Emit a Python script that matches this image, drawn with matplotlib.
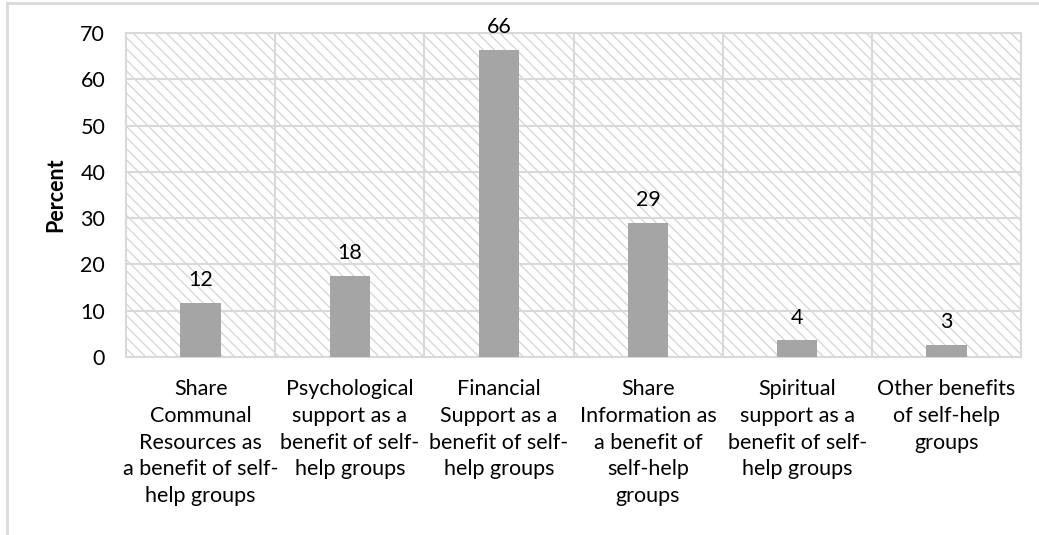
import matplotlib.pyplot as plt
from matplotlib.patches import Rectangle
from matplotlib.lines import Line2D

# Benefits of self-help groups, percent of respondents
categories = [
    "Share\nCommunal\nResources as\na benefit of self-\nhelp groups",
    "Psychological\nsupport as a\nbenefit of self-\nhelp groups",
    "Financial\nSupport as a\nbenefit of self-\nhelp groups",
    "Share\nInformation as\na benefit of\nself-help\ngroups",
    "Spiritual\nsupport as a\nbenefit of self-\nhelp groups",
    "Other benefits\nof self-help\ngroups",
]
percent = [11.7, 17.6, 66.4, 29.0, 3.6, 2.7]
y_ticks = [0, 10, 20, 30, 40, 50, 60, 70]

GRID = "#d9d9d9"
BAR = "#a5a5a5"
FS = 15.5

plt.rcParams["font.family"] = ["Lato", "DejaVu Sans"]
plt.rcParams["hatch.linewidth"] = 0.9
plt.rcParams["hatch.color"] = "#d4d4d4"

fig = plt.figure(figsize=(10.39, 5.35), dpi=100)
ax = fig.add_axes([0.1213, 0.3327, 0.8614, 0.6056])

# hatched plot background
ax.add_patch(Rectangle((0, 0), 1, 1, transform=ax.transAxes, facecolor="white",
                       edgecolor="#d4d4d4", hatch="\\\\\\", linewidth=0, zorder=0))

x = list(range(len(categories)))
bars = ax.bar(x, percent, width=0.27, color=BAR, zorder=3)
ax.bar_label(bars, labels=[f"{v:.0f}" for v in percent], padding=9, fontsize=FS)

ax.set_xlim(-0.5, len(categories) - 0.5)
ax.set_ylim(0, 70)
ax.set_yticks(y_ticks)
ax.set_xticks(x)
ax.set_xticklabels(categories, fontsize=FS, linespacing=1.42, va="top")
ax.tick_params(axis="both", length=0, labelsize=FS)
ax.tick_params(axis="x", pad=16)
ax.tick_params(axis="y", pad=15)

# gridlines: horizontal at ticks, vertical between categories
for yv in y_ticks:
    ax.axhline(yv, color=GRID, linewidth=1.5, zorder=1)
for xv in [i + 0.5 for i in x[:-1]]:
    ax.axvline(xv, color=GRID, linewidth=1.5, zorder=1)
for side in ax.spines.values():
    side.set_color(GRID)
    side.set_linewidth(1.5)

ax.set_ylabel("Percent", fontsize=FS, fontweight="bold", labelpad=10)

# light frame around the chart
fig.add_artist(Line2D([7 / 1039, 1], [1 - 3 / 535, 1 - 3 / 535],
                      transform=fig.transFigure, color=GRID, linewidth=2))
fig.add_artist(Line2D([7 / 1039, 7 / 1039], [0, 1 - 3 / 535],
                      transform=fig.transFigure, color=GRID, linewidth=2))

fig.savefig("out.png", dpi=100)
